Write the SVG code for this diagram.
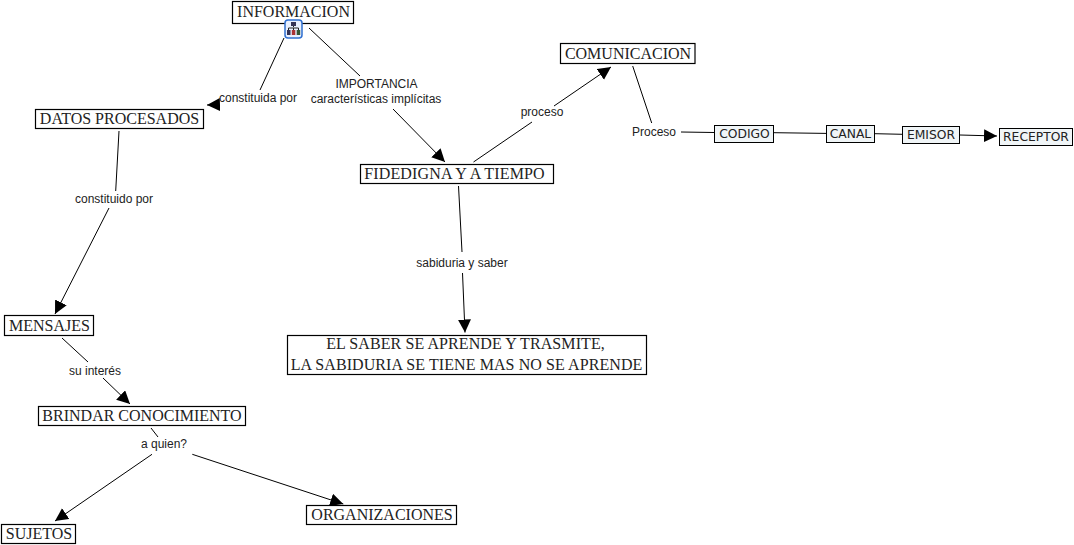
<svg xmlns="http://www.w3.org/2000/svg" width="1074" height="545" viewBox="0 0 1074 545">
<style>
.box{fill:#fff;stroke:#000;stroke-width:1.2}
.box2{fill:#f0f5f7;stroke:#000;stroke-width:1}
.t{font-family:"Liberation Serif",serif;font-size:16px;fill:#222;text-anchor:middle}
.v{font-family:"DejaVu Sans",sans-serif;font-size:12.300px;fill:#222;text-anchor:middle}
.l{font-family:"Liberation Sans",sans-serif;font-size:12px;fill:#222;text-anchor:middle}
.c{fill:none;stroke:#000;stroke-width:1}
</style>
<defs><marker id="a" markerUnits="userSpaceOnUse" markerWidth="15" markerHeight="15" refX="13" refY="6.500" orient="auto"><path d="M0 0L13 6.500L0 13Z" fill="#000"/></marker></defs>
<rect width="1074" height="545" fill="#fff"/>
<g id="connectors">
<path class="c" d="M284 38L260 90"/>
<path class="c" d="M309 28L360 76"/>
<path class="c" marker-end="url(#a)" d="M219 104.600L207 105"/>
<path class="c" marker-end="url(#a)" d="M393 109L445 162"/>
<path class="c" d="M473.500 162L532 122"/>
<path class="c" marker-end="url(#a)" d="M554 106L611 67"/>
<path class="c" d="M632.700 66L651.700 123"/>
<path class="c" d="M681 132L714.500 132.500"/>
<path class="c" d="M774 132.700L826 133.400"/>
<path class="c" d="M875 133.700L902.500 134.300"/>
<path class="c" marker-end="url(#a)" d="M960 135L997 136"/>
<path class="c" d="M119 131L115.700 191"/>
<path class="c" marker-end="url(#a)" d="M109 208L55 314"/>
<path class="c" d="M62 338L88 362"/>
<path class="c" marker-end="url(#a)" d="M103 378L130 404"/>
<path class="c" d="M151 428L158 437"/>
<path class="c" marker-end="url(#a)" d="M152 454.300L55 521"/>
<path class="c" marker-end="url(#a)" d="M192.300 454.300L343.300 504"/>
<path class="c" d="M458.500 186L462 252"/>
<path class="c" marker-end="url(#a)" d="M462.500 273L465 332.500"/>
</g>
<g id="n-informacion"><rect class="box" x="232.500" y="1.500" width="121" height="22"/><text class="t" x="293.500" y="16.500">INFORMACION</text></g>
<g id="n-icon"><rect x="285" y="20" width="17" height="18" rx="3" fill="#e8f0ff" stroke="#2f6fd0" stroke-width="1.500"/><path d="M293.500 23v4M288.500 31v-3h10v3M293.500 28v3" fill="none" stroke="#222"/><rect x="291" y="22" width="5" height="4" fill="#335"/><rect x="287" y="30" width="3.500" height="5" fill="#335"/><rect x="291.800" y="30" width="3.500" height="5" fill="#a33"/><rect x="296.700" y="30" width="3.500" height="5" fill="#353"/></g>
<g id="n-datos"><rect class="box" x="35.500" y="109.500" width="168" height="19"/><text class="t" x="119.500" y="124">DATOS PROCESADOS</text></g>
<g id="n-fide"><rect class="box" x="360.500" y="164.500" width="193" height="19"/><text class="t" x="454.500" y="179" letter-spacing="0.150">FIDEDIGNA Y A TIEMPO</text></g>
<g id="n-com"><rect class="box" x="560.500" y="43.500" width="134.500" height="20"/><text class="t" x="628" y="59">COMUNICACION</text></g>
<g id="n-men"><rect class="box" x="4.500" y="315.500" width="89" height="20"/><text class="t" x="49.500" y="331">MENSAJES</text></g>
<g id="n-brindar"><rect class="box" x="38.500" y="406.500" width="207" height="19"/><text class="t" x="142" y="420.500">BRINDAR CONOCIMIENTO</text></g>
<g id="n-sujetos"><rect class="box" x="1.500" y="524.500" width="74" height="19"/><text class="t" x="39" y="538.500">SUJETOS</text></g>
<g id="n-org"><rect class="box" x="306.500" y="505.500" width="150" height="19"/><text class="t" x="382" y="519.500">ORGANIZACIONES</text></g>
<g id="n-saber"><rect class="box" x="287.500" y="335.500" width="359" height="39"/><text class="t" letter-spacing="0.080"><tspan x="465.500" y="349">EL SABER SE APRENDE Y TRASMITE,</tspan><tspan x="466.500" y="370">LA SABIDURIA SE TIENE MAS NO SE APRENDE</tspan></text></g>
<g id="n-codigo"><rect class="box2" x="714.500" y="125.500" width="59" height="17"/><text class="v" x="744.500" y="138">CODIGO</text></g>
<g id="n-canal"><rect class="box2" x="826.500" y="125.500" width="48" height="17"/><text class="v" x="850.500" y="138">CANAL</text></g>
<g id="n-emisor"><rect class="box2" x="902.500" y="126.500" width="57" height="17"/><text class="v" x="931" y="139">EMISOR</text></g>
<g id="n-receptor"><rect class="box2" x="999.500" y="128.500" width="73" height="17"/><text class="v" x="1036" y="141">RECEPTOR</text></g>
<g id="labels">
<text class="l" x="258" y="102">constituida por</text>
<text class="l" x="376.500" y="88">IMPORTANCIA</text>
<text class="l" x="376" y="103">características implícitas</text>
<text class="l" x="542" y="116">proceso</text>
<text class="l" x="654" y="136">Proceso</text>
<text class="l" x="114" y="203">constituido por</text>
<text class="l" x="462" y="267">sabiduria y saber</text>
<text class="l" x="95" y="375">su interés</text>
<text class="l" x="164" y="448">a quien?</text>
</g>
</svg>
